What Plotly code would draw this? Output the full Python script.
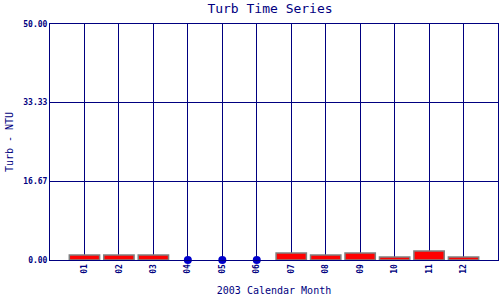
import plotly.graph_objects as go

months = [1, 2, 3, 4, 5, 6, 7, 8, 9, 10, 11, 12]
month_labels = ["01", "02", "03", "04", "05", "06", "07", "08", "09", "10", "11", "12"]
turb = [1.06, 1.06, 1.06, 0.0, 0.0, 0.0, 1.48, 1.06, 1.48, 0.64, 1.9, 0.64]
y_ticks = [0.0, 16.67, 33.33, 50.0]
y_labels = ["0.00", "16.67", "33.33", "50.00"]

NAVY = "#000080"
MONO = "DejaVu Sans Mono"

bar_x = [m for m, v in zip(months, turb) if v > 0]
bar_y = [v for v in turb if v > 0]
zero_x = [m for m, v in zip(months, turb) if v == 0]
zero_y = [v for v in turb if v == 0]

fig = go.Figure()
fig.add_trace(go.Bar(
    x=bar_x, y=bar_y, width=0.88,
    marker=dict(color="#ff0000", line=dict(color="#808080", width=1.5)),
    showlegend=False,
))
fig.add_trace(go.Scatter(
    x=zero_x, y=zero_y, mode="markers",
    marker=dict(color="#0000cc", size=8),
    showlegend=False, cliponaxis=False,
))

fig.update_layout(
    width=500, height=300,
    margin=dict(l=50, r=2, t=24, b=40),
    plot_bgcolor="white", paper_bgcolor="white",
    title=dict(text="Turb Time Series", x=0.54, xanchor="center", y=0.973, yanchor="middle",
               font=dict(family=MONO, size=13, color=NAVY)),
    xaxis=dict(
        range=[0, 13], tickmode="array", tickvals=months, ticktext=month_labels,
        tickangle=-90, tickfont=dict(family=MONO, size=8, color=NAVY, weight="bold"),
        showgrid=True, gridcolor=NAVY, gridwidth=1,
        showline=True, linecolor=NAVY, linewidth=1, mirror=True,
        ticks="", zeroline=False,
        title=dict(text="2003 Calendar Month", font=dict(family=MONO, size=10, color=NAVY), standoff=14),
        automargin=False,
    ),
    yaxis=dict(
        range=[0, 50], tickmode="array", tickvals=y_ticks, ticktext=y_labels,
        tickfont=dict(family=MONO, size=8, color=NAVY, weight="bold"),
        showgrid=True, gridcolor=NAVY, gridwidth=1,
        showline=True, linecolor=NAVY, linewidth=1, mirror=True,
        ticks="", zeroline=False,
        title=dict(text="Turb - NTU", font=dict(family=MONO, size=10, color=NAVY), standoff=7),
        automargin=False,
    ),
)

fig.write_html("out.html")
